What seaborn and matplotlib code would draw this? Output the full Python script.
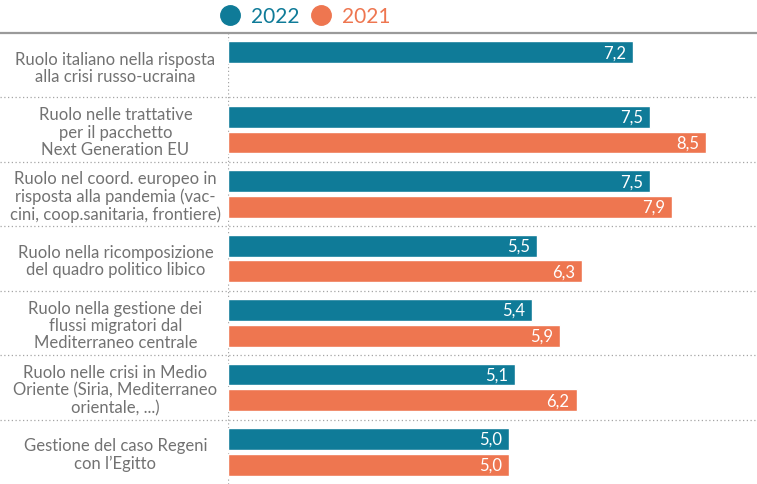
import numpy as np
import pandas as pd
import matplotlib.pyplot as plt
import seaborn as sns
from matplotlib.lines import Line2D

voci = [
    "Ruolo italiano nella risposta\nalla crisi russo-ucraina",
    "Ruolo nelle trattative\nper il pacchetto\nNext Generation EU",
    "Ruolo nel coord. europeo in\nrisposta alla pandemia (vac-\ncini, coop.sanitaria, frontiere)",
    "Ruolo nella ricomposizione\ndel quadro politico libico",
    "Ruolo nella gestione dei\nflussi migratori dal\nMediterraneo centrale",
    "Ruolo nelle crisi in Medio\nOriente (Siria, Mediterraneo\norientale, ...)",
    "Gestione del caso Regeni\ncon l\u2019Egitto",
]
v2022 = [7.2, 7.5, 7.5, 5.5, 5.4, 5.1, 5.0]
v2021 = [np.nan, 8.5, 7.9, 6.3, 5.9, 6.2, 5.0]
anni = ["2022", "2021"]
colori = {"2022": "#0f7b98", "2021": "#ee7650"}

df = pd.DataFrame({
    "voce": voci * 2,
    "anno": ["2022"] * len(voci) + ["2021"] * len(voci),
    "voto": v2022 + v2021,
})

sns.set_style("white")
plt.rcParams["font.family"] = ["Lato", "DejaVu Sans"]

fig = plt.figure(figsize=(7.57, 4.85), dpi=100)
ax = fig.add_axes([228 / 757, 0, 529 / 757, 451 / 485])

sns.barplot(data=df, y="voce", x="voto", hue="anno", order=voci, hue_order=anni,
            palette=colori, saturation=1, width=0.8, gap=0.15, orient="h",
            legend=False, ax=ax, zorder=3)

ax.set_xlim(0, 9.41)
ax.set_ylim(6.5, -0.5)
ax.set_xlabel("")
ax.set_ylabel("")
ax.set_xticks([])
for s in ax.spines.values():
    s.set_visible(False)

ax.tick_params(axis="y", length=0, pad=81, labelsize=12, labelcolor="#727272")
for t in ax.get_yticklabels():
    t.set_ha("center")
    t.set_multialignment("center")
    t.set_linespacing(1.1)

# valori dentro le barre
for bar in ax.patches:
    w = bar.get_width()
    if np.isnan(w) or w == 0:
        continue
    ax.annotate(f"{w:.1f}".replace(".", ","),
                (w, bar.get_y() + bar.get_height() / 2),
                xytext=(-5, 0), textcoords="offset points",
                ha="right", va="center", color="white", fontsize=12, zorder=4)

# separatori
x0 = -228 / 529
for y in np.arange(0.5, len(voci) - 1, 1):
    ax.axhline(y, xmin=x0, xmax=1, color="#a5a5a5", lw=0.9, ls=(0, (1, 2)), clip_on=False)
ax.axhline(-0.5, xmin=x0, xmax=1, color="#9a9a9a", lw=1.6, clip_on=False)
ax.axvline(0, color="#a5a5a5", lw=0.9, ls=(0, (1, 2)), zorder=1)

handles = [Line2D([], [], marker="o", ls="", markersize=14, color=colori[a]) for a in anni]
leg = fig.legend(handles, anni, loc="center left", bbox_to_anchor=(199 / 757, 1 - 17 / 485),
                 ncol=2, frameon=False, fontsize=15, handletextpad=0.4,
                 columnspacing=0.45, handlelength=1.2)
for txt, a in zip(leg.get_texts(), anni):
    txt.set_color(colori[a])

fig.savefig("out.png", dpi=100)
